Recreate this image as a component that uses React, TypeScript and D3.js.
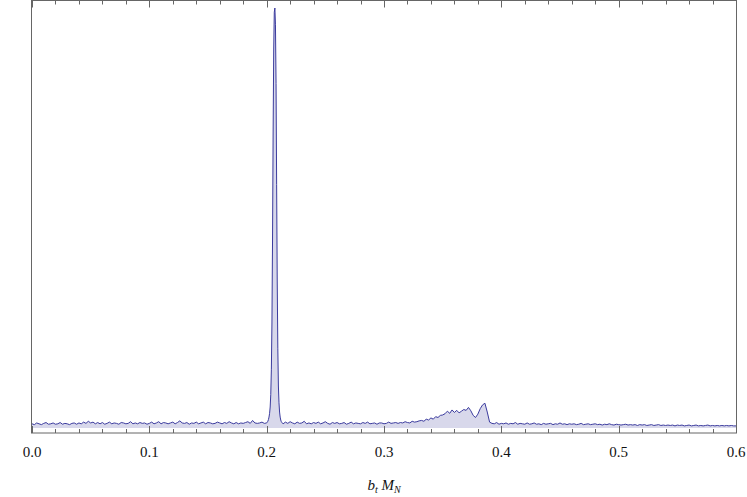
import React from "react";
import * as d3 from "d3";

// uniform samples, x = 0.002 * i
const xStep = 0.002;
const baseValues: number[] = [
  1.0,0.8,1.2,1.0,0.8,1.1,1.3,0.9,1.0,1.2,
  0.9,1.0,1.3,0.9,1.1,1.0,0.8,1.1,1.2,0.9,
  1.2,1.0,1.4,1.1,1.6,1.2,1.4,1.0,1.3,1.0,
  1.3,0.9,1.1,1.4,1.0,1.2,1.1,0.9,1.3,1.2,
  1.0,1.1,1.5,1.0,1.2,1.0,1.3,1.1,1.2,0.9,
  1.1,1.4,1.0,1.2,1.5,1.0,1.3,1.2,1.0,1.2,
  1.4,1.0,1.3,1.7,1.2,1.1,1.3,0.9,1.2,1.1,
  1.4,1.0,1.2,1.4,1.0,1.3,1.2,1.0,1.1,1.4,
  1.2,1.0,1.3,1.1,1.5,1.2,1.0,1.3,1.0,1.2,
  1.1,1.3,1.5,1.1,1.8,1.2,1.1,1.2,1.4,1.1,
  1.2,1.2,1.2,1.2,1.2,1.2,1.2,1.2,1.4,1.1,
  1.5,1.2,1.0,1.4,1.1,1.2,1.6,1.0,1.2,1.0,
  1.3,1.1,1.4,1.0,1.2,1.5,1.1,0.9,1.3,1.1,
  1.3,1.0,1.1,1.3,0.9,1.1,1.4,1.0,1.2,1.1,
  1.0,1.3,1.1,1.4,1.0,1.1,1.2,0.9,1.2,1.2,
  1.0,1.1,1.4,1.1,1.2,1.3,1.1,1.3,1.2,1.5,
  1.3,1.2,1.6,1.4,1.5,1.7,1.8,1.6,2.1,1.9,
  2.4,2.1,2.7,2.5,3.0,3.1,3.4,4.0,3.5,4.3,
  3.7,4.2,3.6,4.0,4.4,4.2,4.9,4.1,3.0,2.5,
  3.3,4.6,5.5,5.9,3.8,1.4,1.1,1.0,1.3,0.9,
  1.1,1.0,1.2,0.9,1.1,1.0,1.3,0.9,1.1,1.0,
  0.9,1.2,0.9,1.0,1.2,0.9,1.0,0.8,1.1,0.9,
  1.0,1.1,0.8,1.0,0.9,1.2,0.9,1.0,0.8,1.0,
  0.9,1.0,0.8,0.9,1.1,0.8,0.9,1.0,0.8,0.9,
  1.0,0.8,0.9,0.7,0.9,0.8,1.0,0.8,0.7,0.9,
  0.8,0.7,0.8,0.9,0.7,0.8,0.7,0.8,0.6,0.8,
  0.7,0.8,0.6,0.7,0.8,0.6,0.7,0.8,0.6,0.7,
  0.6,0.7,0.6,0.7,0.5,0.7,0.6,0.7,0.5,0.6,
  0.7,0.5,0.6,0.7,0.5,0.6,0.5,0.6,0.7,0.5,
  0.6,0.5,0.6,0.5,0.6,0.5,0.6,0.5,0.6,0.5,
  0.5,
];

// fine samples across the narrow resonance
const peakX: number[] = [
  0.2, 0.2005, 0.201, 0.2015, 0.202, 0.2025, 0.203, 0.2035, 0.204, 0.2045,
  0.205, 0.2055, 0.206, 0.2065, 0.207, 0.2075, 0.208, 0.2085, 0.209, 0.2095,
  0.21, 0.2105, 0.211, 0.2115, 0.212, 0.2125, 0.213, 0.2135, 0.214,
];
const peakY: number[] = [
  1.2, 1.4, 1.6, 2.0, 2.6, 3.5, 5, 8, 14, 25,
  45, 70, 90, 99, 100, 96, 82, 58, 35, 19,
  10, 6, 3.8, 2.6, 1.9, 1.5, 1.3, 1.1, 1.0,
];

const xTicks = [0, 0.1, 0.2, 0.3, 0.4, 0.5, 0.6];
const xDomain: [number, number] = [0, 0.6];
const yDomain: [number, number] = [0, 100];

const W = 747;
const H = 497;
const left = 31.5;
const right = 736.5;
const top = 0.5;
const bottom = 433;

export default function App() {
  const x = d3.scaleLinear().domain(xDomain).range([32, 736]);
  const y = d3.scaleLinear().domain(yDomain).range([428, 8]);

  const pts: [number, number][] = [];
  baseValues.forEach((v, i) => {
    const xv = i * xStep;
    if (xv < 0.1999 || xv > 0.2141) pts.push([xv, v]);
  });
  peakX.forEach((xv, i) => pts.push([xv, peakY[i]]));
  pts.sort((a, b) => a[0] - b[0]);

  const line = d3
    .line<[number, number]>()
    .x((d) => x(d[0]))
    .y((d) => y(d[1]));
  const area = d3
    .area<[number, number]>()
    .x((d) => x(d[0]))
    .y0(y(0))
    .y1((d) => y(d[1]));

  const minor = d3.range(0, 31).map((i) => i * 0.02);
  const frame = "#666";

  return (
    <div style={{ position: "absolute", left: 0, top: 0 }}>
      <svg width={W} height={H} style={{ display: "block" }}>
        <rect x={0} y={0} width={W} height={H} fill="#fff" />
        <path d={area(pts) || ""} fill="#3d3d99" fillOpacity={0.2} stroke="none" />
        <path d={line(pts) || ""} fill="none" stroke="#3b3b9e" strokeWidth={1} strokeLinejoin="round" />
        {minor.map((t, i) => {
          const major = i % 5 === 0;
          const len = major ? 7 : 4;
          const xp = Math.round(x(t)) + 0.5;
          return (
            <g key={i}>
              <line x1={xp} x2={xp} y1={bottom} y2={bottom - len} stroke={frame} strokeWidth={1} />
              <line x1={xp} x2={xp} y1={top} y2={top + len} stroke={frame} strokeWidth={1} />
            </g>
          );
        })}
        <rect x={left} y={top} width={right - left} height={bottom - top} fill="none" stroke={frame} strokeWidth={1} />
        {xTicks.map((t) => (
          <text
            key={t}
            x={x(t)}
            y={457}
            textAnchor="middle"
            fontFamily="'Liberation Serif', 'DejaVu Serif', serif"
            fontSize={15}
            fill="#111"
          >
            {t.toFixed(1)}
          </text>
        ))}
        <text
          x={384}
          y={490}
          textAnchor="middle"
          fontFamily="'Liberation Serif', 'DejaVu Serif', serif"
          fontStyle="italic"
          fontSize={15}
          fill="#111"
        >
          <tspan>b</tspan>
          <tspan fontSize={10} dy={3}>t</tspan>
          <tspan dy={-3}> M</tspan>
          <tspan fontSize={10} dy={3}>N</tspan>
        </text>
      </svg>
    </div>
  );
}
